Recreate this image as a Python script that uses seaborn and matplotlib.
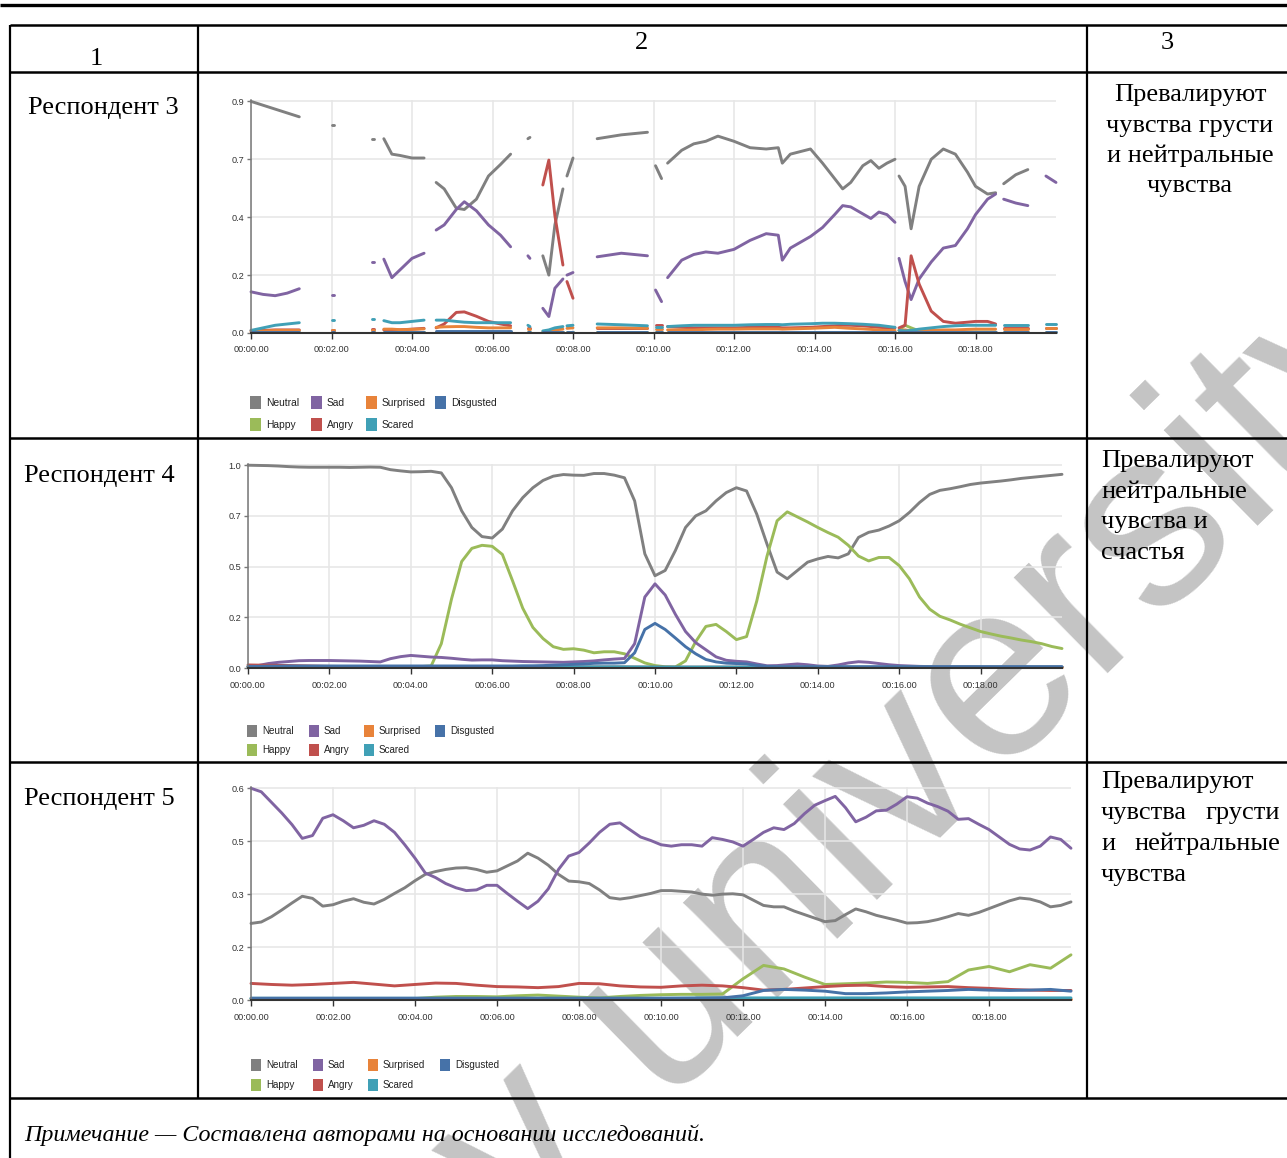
import numpy as np
import pandas as pd
import matplotlib
matplotlib.use("Agg")
import matplotlib.pyplot as plt
import seaborn as sns
from matplotlib import font_manager
from matplotlib.patches import Rectangle
from matplotlib.lines import Line2D

# ---------------- data ----------------
ORDER = ["Neutral", "Happy", "Sad", "Angry", "Surprised", "Scared", "Disgusted"]
COLORS = {"Neutral": "#808080", "Happy": "#9bbb59", "Sad": "#8064a2", "Angry": "#c0504d",
          "Surprised": "#e8833a", "Scared": "#40a0b6", "Disgusted": "#4672a8"}
XTICKS = [0, 2, 4, 6, 8, 10, 12, 14, 16, 18]
XLABELS = ["00:00.00", "00:02.00", "00:04.00", "00:06.00", "00:08.00",
           "00:10.00", "00:12.00", "00:14.00", "00:16.00", "00:18.00"]

# Respondent 3 (gaps marked by None)
t1 = [0.0, 0.3, 0.6, 0.9, 1.2, None,
      2.0, 2.05, None,
      3.0, 3.05, None,
      3.3, 3.5, 3.7, 4.0, 4.3, None,
      4.6, 4.8, 5.1, 5.3, 5.6, 5.9, 6.2, 6.45, None,
      6.88, 6.93, None,
      7.25, 7.4, 7.55, 7.75, None,
      7.85, 8.0, None,
      8.6, 9.2, 9.85, None,
      10.05, 10.2, None,
      10.35, 10.7, 11.0, 11.3, 11.6, 12.0, 12.4, 12.8, 13.1, 13.2, 13.4, 13.9, 14.2, 14.5, 14.7, 14.9, 15.2, 15.4, 15.6, 15.8, 16.0, None,
      16.1, 16.25, 16.4, 16.6, 16.9, 17.2, 17.5, 17.8, 18.0, 18.3, 18.5, None,
      18.7, 19.0, 19.3, None,
      19.75, 20.0]
neutral1 = [0.90, 0.885, 0.87, 0.855, 0.84, None,
            0.81, 0.81, None,
            0.755, 0.755, None,
            0.755, 0.695, 0.69, 0.68, 0.68, None,
            0.585, 0.56, 0.485, 0.48, 0.52, 0.61, 0.655, 0.695, None,
            0.755, 0.76, None,
            0.30, 0.225, 0.42, 0.56, None,
            0.61, 0.68, None,
            0.755, 0.77, 0.78, None,
            0.65, 0.60, None,
            0.66, 0.71, 0.735, 0.745, 0.765, 0.745, 0.72, 0.715, 0.72, 0.66, 0.695, 0.715, 0.66, 0.60, 0.56, 0.585, 0.65, 0.67, 0.64, 0.66, 0.675, None,
            0.61, 0.57, 0.405, 0.57, 0.675, 0.715, 0.695, 0.625, 0.57, 0.54, 0.545, None,
            0.58, 0.615, 0.635, None,
            None, None]
happy1 = [0.003, 0.003, 0.003, 0.003, 0.003, None,
          0.003, 0.003, None,
          0.003, 0.003, None,
          0.003, 0.003, 0.003, 0.003, 0.003, None,
          0.004, 0.004, 0.004, 0.004, 0.004, 0.004, 0.004, 0.004, None,
          0.003, 0.003, None,
          0.003, 0.003, 0.003, 0.003, None,
          0.003, 0.003, None,
          0.004, 0.004, 0.004, None,
          0.004, 0.004, None,
          0.004, 0.004, 0.004, 0.004, 0.004, 0.004, 0.004, 0.004, 0.004, 0.004, 0.004, 0.004, 0.004, 0.004, 0.004, 0.004, 0.004, 0.004, 0.004, 0.004, 0.004, None,
          0.01, 0.03, 0.02, 0.008, 0.005, 0.004, 0.004, 0.004, 0.004, 0.004, 0.004, None,
          0.004, 0.004, 0.004, None,
          0.004, 0.004]
sad1 = [0.16, 0.15, 0.145, 0.155, 0.172, None,
        0.148, 0.148, None,
        0.274, 0.274, None,
        0.287, 0.215, 0.245, 0.29, 0.31, None,
        0.40, 0.42, 0.48, 0.51, 0.475, 0.42, 0.38, 0.335, None,
        0.30, 0.29, None,
        0.096, 0.064, 0.174, 0.21, None,
        0.225, 0.235, None,
        0.296, 0.31, 0.30, None,
        0.167, 0.122, None,
        0.215, 0.283, 0.305, 0.315, 0.31, 0.325, 0.36, 0.386, 0.38, 0.283, 0.33, 0.375, 0.41, 0.46, 0.495, 0.49, 0.463, 0.445, 0.47, 0.46, 0.43, None,
        0.29, 0.20, 0.13, 0.21, 0.276, 0.33, 0.34, 0.405, 0.46, 0.52, 0.54, None,
        0.52, 0.505, 0.495, None,
        0.61, 0.585]
angry1 = [0.01, 0.01, 0.012, 0.012, 0.012, None,
          0.012, 0.012, None,
          0.015, 0.015, None,
          0.012, 0.012, 0.012, 0.015, 0.018, None,
          0.02, 0.035, 0.08, 0.082, 0.065, 0.045, 0.035, 0.028, None,
          0.02, 0.02, None,
          0.575, 0.672, 0.456, 0.264, None,
          0.2, 0.135, None,
          0.02, 0.02, 0.02, None,
          0.03, 0.03, None,
          0.025, 0.022, 0.02, 0.02, 0.02, 0.02, 0.022, 0.022, 0.022, 0.02, 0.02, 0.022, 0.025, 0.028, 0.03, 0.03, 0.028, 0.025, 0.022, 0.02, 0.02, None,
          0.02, 0.03, 0.30, 0.19, 0.085, 0.045, 0.038, 0.042, 0.045, 0.045, 0.035, None,
          0.02, 0.02, 0.02, None,
          0.02, 0.02]
surprised1 = [0.005, 0.008, 0.01, 0.01, 0.01, None,
              0.01, 0.01, None,
              0.012, 0.012, None,
              0.015, 0.015, 0.013, 0.014, 0.016, None,
              0.022, 0.024, 0.025, 0.025, 0.022, 0.02, 0.02, 0.02, None,
              0.015, 0.015, None,
              0.005, 0.008, 0.012, 0.015, None,
              0.018, 0.02, None,
              0.02, 0.02, 0.018, None,
              0.015, 0.015, None,
              0.012, 0.012, 0.012, 0.014, 0.015, 0.015, 0.016, 0.016, 0.016, 0.015, 0.016, 0.018, 0.02, 0.022, 0.02, 0.018, 0.016, 0.014, 0.012, 0.01, 0.01, None,
              0.01, 0.012, 0.008, 0.008, 0.01, 0.012, 0.012, 0.014, 0.015, 0.015, 0.015, None,
              0.015, 0.015, 0.015, None,
              0.018, 0.018]
scared1 = [0.01, 0.02, 0.03, 0.035, 0.04, None,
           0.05, 0.05, None,
           0.055, 0.055, None,
           0.048, 0.04, 0.04, 0.045, 0.05, None,
           0.05, 0.05, 0.045, 0.042, 0.04, 0.04, 0.04, 0.04, None,
           0.03, 0.025, None,
           0.008, 0.012, 0.02, 0.025, None,
           0.028, 0.03, None,
           0.035, 0.032, 0.028, None,
           0.025, 0.025, None,
           0.025, 0.028, 0.03, 0.03, 0.03, 0.03, 0.032, 0.033, 0.033, 0.032, 0.034, 0.036, 0.038, 0.038, 0.037, 0.036, 0.034, 0.032, 0.03, 0.026, 0.022, None,
           0.01, 0.008, 0.01, 0.015, 0.02, 0.025, 0.028, 0.03, 0.03, 0.03, 0.03, None,
           0.03, 0.03, 0.03, None,
           0.035, 0.035]
disgusted1 = [0.003, 0.003, 0.003, 0.003, 0.003, None,
              0.003, 0.003, None,
              0.003, 0.003, None,
              0.003, 0.003, 0.003, 0.003, 0.003, None,
              0.006, 0.006, 0.006, 0.006, 0.006, 0.006, 0.006, 0.006, None,
              0.003, 0.003, None,
              0.003, 0.003, 0.003, 0.003, None,
              0.003, 0.003, None,
              0.003, 0.003, 0.003, None,
              0.003, 0.003, None,
              0.003, 0.003, 0.003, 0.003, 0.003, 0.003, 0.003, 0.003, 0.003, 0.003, 0.003, 0.003, 0.003, 0.003, 0.003, 0.003, 0.003, 0.003, 0.003, 0.003, 0.003, None,
              0.003, 0.003, 0.003, 0.003, 0.003, 0.003, 0.003, 0.003, 0.003, 0.003, 0.003, None,
              0.003, 0.003, 0.003, None,
              0.003, 0.003]

# Respondent 4
t_fine = np.arange(0, 20.001, 0.25)
t_half = np.arange(0, 20.001, 0.5)
t_min = np.arange(0, 20.001, 1.0)
neutral2 = [1.0, 0.999, 0.998, 0.996, 0.993, 0.991, 0.99, 0.99, 0.99, 0.99,
            0.989, 0.99, 0.991, 0.99, 0.978, 0.972, 0.967, 0.968, 0.97, 0.962,
            0.889, 0.775, 0.693, 0.648, 0.641, 0.685, 0.775, 0.84, 0.889, 0.925,
            0.946, 0.954, 0.951, 0.95, 0.959, 0.959, 0.951, 0.938, 0.824, 0.563,
            0.455, 0.481, 0.579, 0.693, 0.75, 0.775, 0.824, 0.865, 0.889, 0.873,
            0.759, 0.612, 0.473, 0.44, 0.481, 0.522, 0.538, 0.55, 0.543, 0.563,
            0.644, 0.669, 0.68, 0.70, 0.726, 0.767, 0.816, 0.856, 0.876, 0.884,
            0.894, 0.905, 0.912, 0.917, 0.922, 0.928, 0.935, 0.94, 0.945, 0.95, 0.955]
happy2 = [0.005, 0.005, 0.005, 0.004, 0.004, 0.004, 0.004, 0.004, 0.004, 0.004,
          0.004, 0.004, 0.004, 0.004, 0.005, 0.005, 0.006, 0.007, 0.01,
          0.12, 0.34, 0.525, 0.59, 0.605, 0.6, 0.56, 0.43, 0.295, 0.2,
          0.145, 0.105, 0.092, 0.095, 0.088, 0.075, 0.08, 0.08, 0.07, 0.048,
          0.025, 0.012, 0.006, 0.005, 0.035, 0.13, 0.205, 0.215, 0.18, 0.14,
          0.155, 0.33, 0.55, 0.726, 0.77, 0.745, 0.72, 0.693, 0.668, 0.645,
          0.605, 0.552, 0.528, 0.545, 0.545, 0.505, 0.44, 0.35, 0.29, 0.255,
          0.237, 0.216, 0.198, 0.18, 0.168, 0.157, 0.148, 0.138, 0.13, 0.12,
          0.106, 0.096]
sad2 = [0.005, 0.012, 0.022, 0.028, 0.032, 0.036, 0.037, 0.037, 0.037, 0.036,
        0.035, 0.034, 0.032, 0.03, 0.046, 0.056, 0.062, 0.058, 0.054, 0.052,
        0.048, 0.043, 0.039, 0.04, 0.04, 0.036, 0.034, 0.032, 0.031, 0.03,
        0.029, 0.028, 0.03, 0.032, 0.035, 0.04, 0.044, 0.047, 0.12, 0.35,
        0.415, 0.36, 0.265, 0.18, 0.125, 0.09, 0.055, 0.038, 0.033, 0.03,
        0.02, 0.011, 0.012, 0.016, 0.02, 0.016, 0.01, 0.008, 0.015, 0.025,
        0.031, 0.028, 0.022, 0.016, 0.012, 0.01, 0.008, 0.007, 0.006, 0.006,
        0.006, 0.006, 0.005, 0.005, 0.005, 0.005, 0.005, 0.005, 0.005, 0.005, 0.005]
disgusted2 = [0.008, 0.008, 0.009, 0.009, 0.01, 0.01, 0.01, 0.01, 0.01, 0.01,
              0.01, 0.01, 0.01, 0.01, 0.01, 0.01, 0.01, 0.01, 0.01, 0.01,
              0.01, 0.01, 0.01, 0.01, 0.01, 0.01, 0.01, 0.011, 0.011,
              0.012, 0.014, 0.016, 0.018, 0.02, 0.023, 0.024, 0.024, 0.026, 0.075,
              0.19, 0.22, 0.19, 0.148, 0.105, 0.07, 0.042, 0.03, 0.024, 0.022,
              0.02, 0.013, 0.008,
              0.006, 0.006, 0.006, 0.006, 0.006, 0.006, 0.006, 0.006, 0.006, 0.006,
              0.006, 0.006, 0.006, 0.006, 0.006, 0.006, 0.006, 0.006, 0.006, 0.006,
              0.006, 0.006, 0.006, 0.006, 0.006, 0.006, 0.006, 0.006, 0.006]
angry2 = [0.015, 0.012, 0.008, 0.006, 0.005, 0.005, 0.005, 0.005, 0.005, 0.005, 0.004,
          0.004, 0.004, 0.004, 0.004, 0.004, 0.004, 0.004, 0.004, 0.004, 0.004]
surprised2 = [0.003, 0.003, 0.003, 0.003, 0.003, 0.003, 0.003, 0.003, 0.003, 0.003, 0.003,
              0.003, 0.003, 0.003, 0.003, 0.003, 0.003, 0.003, 0.003, 0.003, 0.003]
scared2 = [0.006, 0.006, 0.007, 0.007, 0.007, 0.006, 0.006, 0.006, 0.006, 0.006, 0.005,
           0.005, 0.005, 0.005, 0.005, 0.005, 0.005, 0.005, 0.005, 0.005, 0.005]

# Respondent 5
sad3 = [0.60, 0.59, 0.56, 0.53, 0.497, 0.458, 0.466, 0.515, 0.525, 0.508,
        0.488, 0.495, 0.508, 0.498, 0.475, 0.44, 0.402, 0.36, 0.347, 0.33,
        0.318, 0.31, 0.312, 0.325, 0.325, 0.302, 0.28, 0.259, 0.28, 0.315,
        0.37, 0.408, 0.418, 0.445, 0.475, 0.498, 0.502, 0.482, 0.462, 0.452,
        0.44, 0.436, 0.44, 0.44, 0.436, 0.46, 0.455, 0.448, 0.436, 0.455,
        0.475, 0.488, 0.483, 0.5, 0.528, 0.552, 0.565, 0.577, 0.545, 0.505,
        0.518, 0.536, 0.538, 0.555, 0.576, 0.572, 0.558, 0.548, 0.535, 0.512,
        0.514, 0.498, 0.483, 0.462, 0.441, 0.428, 0.425, 0.436, 0.462, 0.455, 0.43]
neutral3 = [0.217, 0.221, 0.236, 0.255, 0.275, 0.294, 0.288, 0.266, 0.27, 0.28,
            0.287, 0.277, 0.272, 0.285, 0.302, 0.318, 0.338, 0.356, 0.364, 0.37,
            0.374, 0.375, 0.37, 0.362, 0.366, 0.38, 0.394, 0.416, 0.402, 0.382,
            0.356, 0.337, 0.335, 0.33, 0.312, 0.29, 0.286, 0.29, 0.296, 0.302,
            0.31, 0.31, 0.308, 0.306, 0.3, 0.297, 0.3, 0.301, 0.298, 0.283,
            0.268, 0.264, 0.264, 0.252, 0.242, 0.232, 0.222, 0.225, 0.242, 0.258,
            0.25, 0.24, 0.233, 0.226, 0.218, 0.219, 0.222, 0.228, 0.236, 0.245,
            0.24, 0.248, 0.259, 0.27, 0.281, 0.289, 0.286, 0.278, 0.264, 0.268, 0.278]
happy3 = [0.003, 0.003, 0.003, 0.003, 0.003, 0.003, 0.003, 0.003, 0.004,
          0.008, 0.01, 0.01, 0.009, 0.012, 0.014, 0.011, 0.008, 0.006, 0.01,
          0.013, 0.015, 0.016, 0.016, 0.017, 0.06, 0.098, 0.088, 0.065, 0.044,
          0.046, 0.048, 0.051, 0.05, 0.047, 0.052, 0.085, 0.095, 0.08, 0.1,
          0.09, 0.128]
angry3 = [0.047, 0.044, 0.042, 0.044, 0.047, 0.05, 0.045, 0.04, 0.044, 0.048,
          0.047, 0.042, 0.038, 0.037, 0.035, 0.038, 0.047, 0.046, 0.04, 0.037,
          0.036, 0.04, 0.042, 0.04, 0.035, 0.028, 0.03, 0.034, 0.038, 0.041,
          0.042, 0.038, 0.036, 0.037, 0.038, 0.035, 0.033, 0.03, 0.028, 0.027, 0.027]
disgusted3 = [0.005, 0.005, 0.005, 0.005, 0.005, 0.005, 0.005, 0.005, 0.005, 0.005,
              0.005, 0.005, 0.005, 0.005, 0.005, 0.005, 0.005, 0.005, 0.005, 0.005,
              0.005, 0.005, 0.005, 0.006,
              0.012, 0.027, 0.03, 0.028, 0.025, 0.018, 0.018, 0.02, 0.023, 0.025,
              0.027, 0.03, 0.028, 0.027, 0.028, 0.03, 0.025]
surprised3 = [0.003, 0.003, 0.003, 0.003, 0.003, 0.003, 0.003, 0.003, 0.003, 0.003, 0.003,
              0.003, 0.003, 0.003, 0.003, 0.003, 0.003, 0.003, 0.003, 0.003, 0.003]
scared3 = [0.005, 0.005, 0.005, 0.005, 0.005, 0.005, 0.005, 0.005, 0.005, 0.005, 0.005,
           0.006, 0.006, 0.006, 0.006, 0.006, 0.006, 0.006, 0.006, 0.006, 0.006]

Y1_TICKS, Y1_LABELS = [0, 0.225, 0.45, 0.675, 0.9], ["0.0", "0.2", "0.4", "0.7", "0.9"]
Y2_TICKS, Y2_LABELS = [0, 0.25, 0.5, 0.75, 1.0], ["0.0", "0.2", "0.5", "0.7", "1.0"]
Y3_TICKS, Y3_LABELS = [0, 0.15, 0.3, 0.45, 0.6], ["0.0", "0.2", "0.3", "0.5", "0.6"]

# ---------------- helpers ----------------
def long_df(series):
    rows = []
    for name, (tt, vv) in series.items():
        assert len(tt) == len(vv), (name, len(tt), len(vv))
        seg = 0
        for a, b in zip(tt, vv):
            if a is None:
                seg += 1
                continue
            if b is None:
                continue
            rows.append((float(a), float(b), name, seg))
    return pd.DataFrame(rows, columns=["t", "v", "emotion", "seg"])

df1 = long_df({"Neutral": (t1, neutral1), "Happy": (t1, happy1), "Sad": (t1, sad1),
               "Angry": (t1, angry1), "Surprised": (t1, surprised1), "Scared": (t1, scared1),
               "Disgusted": (t1, disgusted1)})
df2 = long_df({"Neutral": (list(t_fine), neutral2), "Happy": (list(t_fine), happy2),
               "Sad": (list(t_fine), sad2), "Angry": (list(t_min), angry2),
               "Surprised": (list(t_min), surprised2), "Scared": (list(t_min), scared2),
               "Disgusted": (list(t_fine), disgusted2)})
df3 = long_df({"Neutral": (list(t_fine), neutral3), "Happy": (list(t_half), happy3),
               "Sad": (list(t_fine), sad3), "Angry": (list(t_half), angry3),
               "Surprised": (list(t_min), surprised3), "Scared": (list(t_min), scared3),
               "Disgusted": (list(t_half), disgusted3)})

sns.set_theme(style="white")
avail = {f.name for f in font_manager.fontManager.ttflist}
if "Liberation Sans Narrow" in avail:
    NARROW, TICK_FS, LEG_FS = "Liberation Sans Narrow", 7.7, 9.0
else:
    NARROW, TICK_FS, LEG_FS = "Liberation Sans", 6.6, 7.4
SERIF = "Liberation Serif"
plt.rcParams["font.family"] = [SERIF, "DejaVu Serif"]

W, H = 1287, 1158
fig = plt.figure(figsize=(W / 100, H / 100), dpi=100)
fig.patch.set_facecolor("white")

def hline(y, x0, x1, lw=1.6):
    fig.add_artist(Line2D([x0 / W, x1 / W], [1 - y / H, 1 - y / H], transform=fig.transFigure,
                          color="black", lw=lw, solid_capstyle="butt"))

def vline(x, y0, y1, lw=1.6):
    fig.add_artist(Line2D([x / W, x / W], [1 - y0 / H, 1 - y1 / H], transform=fig.transFigure,
                          color="black", lw=lw, solid_capstyle="butt"))

def ftext(x, y, s, **kw):
    kw.setdefault("fontsize", 19)
    kw.setdefault("va", "baseline")
    kw.setdefault("color", "black")
    fig.text(x / W, 1 - y / H, s, **kw)

# watermark (partly outside the page, as in the source)
fig.text(855 / W, 1 - 830 / H, "tov university", rotation=44.5, fontsize=182,
         color="#c4c4c4", family="Liberation Sans", ha="center", va="center",
         rotation_mode="anchor", zorder=-5)

# table rules
hline(5, 0, W, lw=2.4)
hline(25, 10, W, lw=1.8)
hline(72, 10, W, lw=1.8)
hline(438, 10, W, lw=1.8)
hline(762, 10, W, lw=1.8)
hline(1098, 10, W, lw=1.8)
vline(10, 25, H)
vline(198, 25, 1098)
vline(1087, 25, 1098)

# header
ftext(96, 65, "1", ha="center")
ftext(641, 49, "2", ha="center")
ftext(1167, 49, "3", ha="center")

# row labels
ftext(28, 114, "Респондент 3")
ftext(24, 482, "Респондент 4")
ftext(24, 805, "Респондент 5")

# column 3 texts
for y, s in zip([101, 132, 162, 192], ["Превалируют", "чувства грусти", "и нейтральные", "чувства"]):
    ftext(1190, y, s, ha="center")
for y, s in zip([467, 498, 528, 559], ["Превалируют", "нейтральные", "чувства и", "счастья"]):
    ftext(1101, y, s)
ftext(1101, 788, "Превалируют")
ftext(1101, 819, "чувства")
ftext(1280, 819, "грусти", ha="right")
ftext(1101, 850, "и")
ftext(1280, 850, "нейтральные", ha="right")
ftext(1101, 881, "чувства")

ftext(24, 1141, "Примечание — Составлена авторами на основании исследований.",
      style="italic", fontsize=17.3)

# ---------------- charts ----------------
def draw_chart(box, df, yticks, ylabels):
    left, right, top, bottom = box
    ax = fig.add_axes([left / W, 1 - bottom / H, (right - left) / W, (bottom - top) / H])
    ax.set_facecolor("none")
    sns.lineplot(data=df, x="t", y="v", hue="emotion", units="seg", estimator=None,
                 hue_order=ORDER, palette=COLORS, legend=False, ax=ax, lw=2.1,
                 clip_on=False)
    ax.set_xlim(0, 20)
    ax.set_ylim(0, yticks[-1] * 1.006)
    ax.set_xticks(XTICKS)
    ax.set_xticklabels(XLABELS)
    ax.set_yticks(yticks)
    ax.set_yticklabels(ylabels)
    ax.grid(True, color="#e6e6e6", lw=1.1)
    ax.set_axisbelow(True)
    for s in ["top", "right"]:
        ax.spines[s].set_visible(False)
    ax.spines["left"].set_color("#777777")
    ax.spines["left"].set_linewidth(1.1)
    ax.spines["bottom"].set_color("#333333")
    ax.spines["bottom"].set_linewidth(1.5)
    ax.tick_params(axis="x", bottom=True, length=4, width=1, color="#333333", pad=5,
                   labelsize=TICK_FS, labelcolor="#333333")
    ax.tick_params(axis="y", left=True, length=3, width=1, color="#777777", pad=2,
                   labelsize=TICK_FS, labelcolor="#333333")
    for lab in ax.get_xticklabels() + ax.get_yticklabels():
        lab.set_family(NARROW)
    ax.set_xlabel("")
    ax.set_ylabel("")
    return ax

def draw_legend(xcols, yrows, sw, sh, fs):
    entries = [("Neutral", 0, 0), ("Sad", 1, 0), ("Surprised", 2, 0), ("Disgusted", 3, 0),
               ("Happy", 0, 1), ("Angry", 1, 1), ("Scared", 2, 1)]
    for name, c, r in entries:
        x, y = xcols[c], yrows[r]
        fig.add_artist(Rectangle((x / W, 1 - (y + sh / 2) / H), sw / W, sh / H,
                                 transform=fig.transFigure, facecolor=COLORS[name],
                                 edgecolor="none"))
        fig.text((x + sw + 5) / W, 1 - y / H, name, ha="left", va="center",
                 fontsize=fs, family=NARROW, color="#222222")

draw_chart((251, 1056, 100, 333), df1, Y1_TICKS, Y1_LABELS)
draw_legend([250, 311, 366, 435], [403, 425], 11, 13, LEG_FS)

draw_chart((248, 1062, 464, 668), df2, Y2_TICKS, Y2_LABELS)
draw_legend([247, 309, 364, 435], [731, 750], 10, 12, LEG_FS * 0.96)

draw_chart((251, 1071, 787, 1000), df3, Y3_TICKS, Y3_LABELS)
draw_legend([251, 313, 368, 440], [1065, 1085], 10, 12, LEG_FS * 0.96)

fig.savefig("out.png", dpi=100, facecolor="white")
